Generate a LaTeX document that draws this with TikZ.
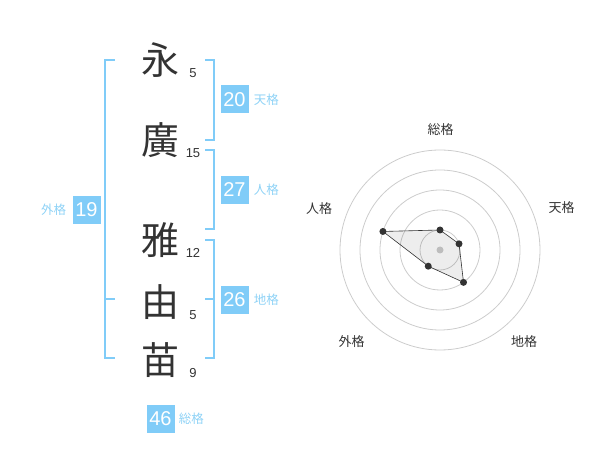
\documentclass[tikz,border=0pt]{standalone}
\usepackage{fontspec}
\usetikzlibrary{positioning}
\setmainfont{Liberation Sans}
\newfontfamily\cjk{Noto Sans CJK JP}
\definecolor{kakublue}{HTML}{80CCF8}
\definecolor{kakulabel}{HTML}{8ED2F6}
\definecolor{inkgray}{HTML}{333333}
\definecolor{ringgray}{HTML}{CCCCCC}

\begin{document}
\begin{tikzpicture}[x=1pt,y=-1pt]
            \tikzstyle{kanji}=[font=\cjk\fontsize{38}{38}\selectfont,text=inkgray,inner sep=0pt]
            \tikzstyle{strokes}=[font=\fontsize{13}{13}\selectfont,text=inkgray,inner sep=0pt]
            \tikzstyle{kaku box}=[fill=kakublue,text=white,minimum size=28pt,inner sep=0pt,font=\fontsize{20}{20}\selectfont]
            \tikzstyle{kaku label}=[text=kakulabel,font=\cjk\fontsize{12.5}{12.5}\selectfont,inner sep=0pt]
            \tikzstyle{bracket}=[draw=kakublue,line width=2pt]
            \tikzstyle{ring}=[draw=ringgray,line width=0.8pt]
            \tikzstyle{dot}=[circle,fill=inkgray,minimum size=7pt,inner sep=0pt]
            \tikzstyle{axis label}=[text=inkgray,font=\cjk\fontsize{13}{13}\selectfont,inner sep=0pt]

            \useasboundingbox (0,0) rectangle (600,470);

            % Draw the name characters and their stroke counts
            \foreach \name / \ch / \y / \n in {1/永/60/5, 2/廣/140/15, 3/雅/240/12, 4/由/302/5, 5/苗/360/9}
            {
                \node[kanji] (K-\name) at (160,\y) {\ch};
                \node[strokes] (S-\name) at (193,\y+13) {\n};
            }

            % Brackets grouping the characters
            \draw[bracket] (115,60) -- (105,60) -- (105,358) -- (115,358);
            \draw[bracket] (105,299) -- (115,299);
            \draw[bracket] (205,60) -- (214,60) -- (214,140) -- (205,140);
            \draw[bracket] (205,150) -- (214,150) -- (214,229) -- (205,229);
            \draw[bracket] (205,240) -- (214,240) -- (214,358) -- (205,358);
            \draw[bracket] (205,299) -- (214,299);

            % The five totals
            \node[kaku box] (ten) at (234.5,99.5) {20};
            \node[kaku box] (jin) at (234.5,190) {27};
            \node[kaku box] (chi) at (234.5,300) {26};
            \node[kaku box] (gai) at (86.5,210) {19};
            \node[kaku box] (sou) at (160.5,419) {46};
            \node[kaku label,right=5pt of ten] {天格};
            \node[kaku label,right=5pt of jin] {人格};
            \node[kaku label,right=5pt of chi] {地格};
            \node[kaku label,left=6pt of gai] {外格};
            \node[kaku label,right=4pt of sou] {総格};

            % Radar chart
            \begin{scope}[shift={(440,250)},y=1pt]
                \foreach \r in {20,40,60,80,100}
                    \draw[ring] (0,0) circle[radius=\r];
                \fill[ringgray] (0,0) circle[radius=3.5];

                \foreach \name / \a / \r in {1/90/20, 2/18/20, 3/-54/40, 4/-126/20, 5/162/60}
                    \coordinate (P-\name) at (\a:\r);
                \draw[inkgray,line width=0.6pt,fill=black,fill opacity=0.07]
                    (P-1) -- (P-2) -- (P-3) -- (P-4) -- (P-5) -- cycle;
                \foreach \name in {1,...,5}
                    \node[dot] at (P-\name) {};

                % Annotate the axes
                \node[axis label] at (0.7,120) {総格};
                \node[axis label] at (121.7,42) {天格};
                \node[axis label] at (84,-91.7) {地格};
                \node[axis label] at (-88.3,-91.7) {外格};
                \node[axis label] at (-121,41) {人格};
            \end{scope}
        \end{tikzpicture}
\end{document}
